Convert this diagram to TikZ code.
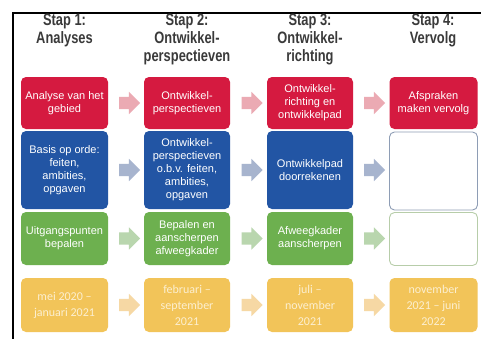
\documentclass[tikz,border=0pt]{standalone}
\usepackage{fontspec}
\setmainfont{Liberation Sans}
\newfontfamily\hdrfont[FakeStretch=0.78]{Liberation Sans Bold}
\newfontfamily\datefont{Carlito}
\usetikzlibrary{shapes.arrows}
\definecolor{cred}{HTML}{D51A40}
\definecolor{cblue}{HTML}{2255A4}
\definecolor{cgreen}{HTML}{6DB04F}
\definecolor{cyellow}{HTML}{F2C459}
\definecolor{ared}{HTML}{EBAAB3}
\definecolor{ablue}{HTML}{A7B4CE}
\definecolor{agreen}{HTML}{B9D6AE}
\definecolor{ayellow}{HTML}{F6D8A4}
\definecolor{oblue}{HTML}{8E9DB5}
\definecolor{ogreen}{HTML}{B7CDA9}
\definecolor{ytext}{HTML}{FCEFD0}
\definecolor{hdr}{HTML}{3A3A3A}
\tikzset{
  box/.style={rounded corners=5pt, inner sep=0pt, align=center, text=white,
    font=\fontsize{11}{13}\selectfont},
  redbox/.style={box, fill=cred, minimum height=52pt},
  bluebox/.style={box, fill=cblue, minimum height=78pt},
  greenbox/.style={box, fill=cgreen, minimum height=53pt},
  yellowbox/.style={box, fill=cyellow, minimum height=54pt, text=ytext,
    font=\datefont\fontsize{12}{16}\selectfont},
  emptybox/.style={rounded corners=5pt, fill=white, line width=0.9pt, minimum width=88pt},
  hdrnode/.style={align=center, text=hdr, inner sep=0pt,
    font=\hdrfont\fontsize{16.5}{18}\selectfont, anchor=north},
  blockarrow/.style={single arrow, single arrow head extend=5pt, inner sep=0pt,
    text height=12pt, text depth=0pt, minimum height=21pt, draw=none},
}
\begin{document}
\begin{tikzpicture}[x=1pt,y=-1pt]
\useasboundingbox (0,0) rectangle (481,338);
\fill[white] (0,0) rectangle (481,338);
% frame
\draw[line width=2pt] (12.5,339) -- (12.5,12.5) -- (482,12.5);

% headers
\node[hdrnode] (h1) at (64.5,14) {Stap 1:\\Analyses};
\node[hdrnode] (h2) at (187,14) {Stap 2:\\Ontwikkel-\\perspectieven};
\node[hdrnode] (h3) at (310,14) {Stap 3:\\Ontwikkel-\\richting};
\node[hdrnode] (h4) at (433,14) {Stap 4:\\Vervolg};

% red row
\node[redbox, minimum width=87pt] (r1) at (64.5,103) {Analyse van het\\gebied};
\node[redbox, minimum width=86pt] (r2) at (187,103) {Ontwikkel-\\perspectieven};
\node[redbox, minimum width=86pt] (r3) at (310,103) {Ontwikkel-\\richting en\\ontwikkelpad};
\node[redbox, minimum width=88pt] (r4) at (433.5,103) {Afspraken\\maken vervolg};

% blue row
\node[bluebox, minimum width=87pt] (b1) at (64.5,170) {Basis op orde:\\feiten,\\ambities,\\opgaven};
\node[bluebox, minimum width=86pt] (b2) at (187,170) {Ontwikkel-\\perspectieven\\o.b.v. feiten,\\ambities,\\opgaven};
\node[bluebox, minimum width=86pt] (b3) at (310,170) {Ontwikkelpad\\doorrekenen};
\node[emptybox, draw=oblue, minimum height=78pt] (b4) at (433.5,171) {};

% green row
\node[greenbox, minimum width=87pt] (g1) at (64.5,238.5) {Uitgangspunten\\bepalen};
\node[greenbox, minimum width=86pt] (g2) at (187,238.5) {Bepalen en\\aanscherpen\\afweegkader};
\node[greenbox, minimum width=86pt] (g3) at (310,238.5) {Afweegkader\\aanscherpen};
\node[emptybox, draw=ogreen, minimum height=53pt] (g4) at (433.5,239) {};

% yellow row
\node[yellowbox, minimum width=87pt] (y1) at (64.5,305) {mei 2020 –\\januari 2021};
\node[yellowbox, minimum width=86pt] (y2) at (187,305) {februari –\\september\\2021};
\node[yellowbox, minimum width=86pt] (y3) at (310,305) {juli –\\november\\2021};
\node[yellowbox, minimum width=88pt] (y4) at (433.5,305) {november\\2021 – juni\\2022};

% arrows
\foreach \row/\col/\yy in {r/ared/103, b/ablue/170, g/agreen/238.5, y/ayellow/305}{
  \node[blockarrow, fill=\col] (\row a1) at (126.5,\yy) {};
  \node[blockarrow, fill=\col] (\row a2) at (249,\yy) {};
  \node[blockarrow, fill=\col] (\row a3) at (371.5,\yy) {};
}
\end{tikzpicture}
\end{document}
